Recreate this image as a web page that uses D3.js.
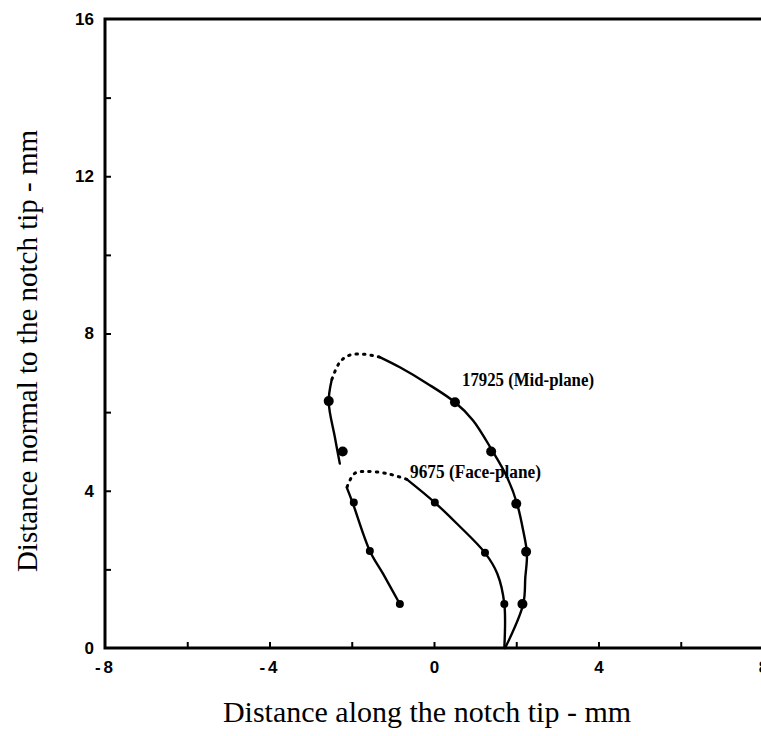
<!DOCTYPE html>
<html><head><meta charset="utf-8">
<script src="https://cdn.jsdelivr.net/npm/d3@7/dist/d3.min.js"></script>
<style>
html,body{margin:0;padding:0;background:#fff;}
svg{display:block;}
</style></head>
<body>
<script>
// ---- data ----
const xLabelTicks = [-8, -4, 0, 4, 8];
const yLabelTicks = [0, 4, 8, 12, 16];
const xMinorTicks = [-6, -4, -2, 0, 2, 4, 6];
const yMinorTicks = [2, 4, 6, 8, 10, 12, 14];

// 17925 (Mid-plane) measured points
const midX = [-2.56, -2.22, 0.51, 1.39, 2.00, 2.24, 2.15];
const midY = [6.28, 5.00, 6.25, 5.00, 3.67, 2.45, 1.12];
// 9675 (Face-plane) measured points
const faceX = [-1.95, -1.56, -0.83, 0.02, 1.24, 1.71];
const faceY = [3.70, 2.47, 1.12, 3.70, 2.42, 1.12];

// Mid-plane fitted contour: solid right branch, dotted top, solid left branch
const midRightX = [1.73, 2.17, 2.22, 2.26, 2.17, 2.02, 1.78, 1.41, 0.95, 0.51, -0.17, -0.83, -1.32];
const midRightY = [0.00, 1.12, 1.79, 2.40, 2.98, 3.67, 4.34, 5.03, 5.79, 6.25, 6.73, 7.14, 7.40];
const midTopX = [-1.32, -1.68, -2.05, -2.29, -2.49];
const midTopY = [7.40, 7.47, 7.45, 7.27, 6.81];
const midLeftX = [-2.49, -2.56, -2.41, -2.29];
const midLeftY = [6.81, 6.25, 5.36, 4.69];

// Face-plane fitted contour
const faceRightX = [1.71, 1.71, 1.54, 1.24, 0.56, 0.02, -0.66];
const faceRightY = [0.00, 1.12, 1.89, 2.42, 3.16, 3.70, 4.29];
const faceTopX = [-0.66, -1.15, -1.63, -1.93, -2.12];
const faceTopY = [4.29, 4.44, 4.49, 4.44, 4.08];
const faceLeftX = [-2.12, -1.98, -1.56, -1.24, -0.83];
const faceLeftY = [4.08, 3.70, 2.47, 1.89, 1.12];

const midLabel = "17925 (Mid-plane)";
const faceLabel = "9675 (Face-plane)";
const xTitle = "Distance along the notch tip - mm";
const yTitle = "Distance normal to the notch tip - mm";

// ---- chart ----
const W = 761, H = 736;
const svg = d3.select("body").append("svg").attr("width", W).attr("height", H);

const x = d3.scaleLinear().domain([-8, 8]).range([105, 763]);
const y = d3.scaleLinear().domain([0, 16]).range([648, 19]);

const g = svg.append("g");

// frame
g.append("rect")
  .attr("x", x(-8)).attr("y", y(16))
  .attr("width", x(8) - x(-8)).attr("height", y(0) - y(16))
  .attr("fill", "none").attr("stroke", "#000").attr("stroke-width", 3);

// minor inward ticks
const xAxisTicks = d3.axisBottom(x).tickValues(xMinorTicks).tickSize(-6).tickFormat("");
const xa = g.append("g").attr("transform", `translate(0,${y(0)})`).call(xAxisTicks);
xa.select(".domain").remove();
xa.selectAll("line").attr("stroke", "#000").attr("stroke-width", 2);

const yAxisTicks = d3.axisLeft(y).tickValues(yMinorTicks).tickSize(-6).tickFormat("");
const ya = g.append("g").attr("transform", `translate(${x(-8)},0)`).call(yAxisTicks);
ya.select(".domain").remove();
ya.selectAll("line").attr("stroke", "#000").attr("stroke-width", 2);

// tick labels
const xl = g.append("g").attr("transform", `translate(0,${y(0)})`)
  .call(d3.axisBottom(x).tickValues(xLabelTicks).tickSize(0).tickPadding(13)
    .tickFormat(d => d < 0 ? "-" + Math.abs(d) : String(d)));
xl.select(".domain").remove();
xl.selectAll("text").attr("font-family", "Liberation Sans, Arial, sans-serif")
  .attr("font-weight", "bold").attr("font-size", 17).attr("fill", "#000")
  .attr("letter-spacing", d => d < 0 ? 3 : 0);

const yl = g.append("g").attr("transform", `translate(${x(-8)},0)`)
  .call(d3.axisLeft(y).tickValues(yLabelTicks).tickSize(0).tickPadding(11).tickFormat(d => String(d)));
yl.select(".domain").remove();
yl.selectAll("text").attr("font-family", "Liberation Sans, Arial, sans-serif")
  .attr("font-weight", "bold").attr("font-size", 17).attr("fill", "#000");

// curves
const line = d3.line().x(d => x(d[0])).y(d => y(d[1])).curve(d3.curveCatmullRom.alpha(0.5));
const zip = (a, b) => a.map((v, i) => [v, b[i]]);

function seg(xs, ys, dotted) {
  g.append("path").datum(zip(xs, ys)).attr("d", line)
    .attr("fill", "none").attr("stroke", "#000")
    .attr("stroke-width", dotted ? 3 : 2.4)
    .attr("stroke-linecap", "round")
    .attr("stroke-dasharray", dotted ? "1.5,6" : null);
}
seg(midRightX, midRightY, false);
seg(midTopX, midTopY, true);
seg(midLeftX, midLeftY, false);
seg(faceRightX, faceRightY, false);
seg(faceTopX, faceTopY, true);
seg(faceLeftX, faceLeftY, false);

// markers
g.append("g").selectAll("circle").data(zip(midX, midY)).join("circle")
  .attr("cx", d => x(d[0])).attr("cy", d => y(d[1])).attr("r", 5).attr("fill", "#000");
g.append("g").selectAll("circle").data(zip(faceX, faceY)).join("circle")
  .attr("cx", d => x(d[0])).attr("cy", d => y(d[1])).attr("r", 4).attr("fill", "#000");

// curve labels
g.append("text").attr("x", 462).attr("y", 386).text(midLabel)
  .attr("font-family", "Liberation Serif, Times New Roman, serif").attr("font-weight", "bold")
  .attr("font-size", 18).attr("textLength", 132).attr("lengthAdjust", "spacingAndGlyphs");
g.append("text").attr("x", 410).attr("y", 478).text(faceLabel)
  .attr("font-family", "Liberation Serif, Times New Roman, serif").attr("font-weight", "bold")
  .attr("font-size", 18).attr("textLength", 131).attr("lengthAdjust", "spacingAndGlyphs");

// axis titles
svg.append("text").attr("x", 427).attr("y", 722).attr("text-anchor", "middle").text(xTitle)
  .attr("font-family", "Liberation Serif, Times New Roman, serif").attr("font-size", 30);
svg.append("text").attr("transform", "translate(37,351) rotate(-90)").attr("text-anchor", "middle").text(yTitle)
  .attr("font-family", "Liberation Serif, Times New Roman, serif").attr("font-size", 29);
</script>
</body></html>
